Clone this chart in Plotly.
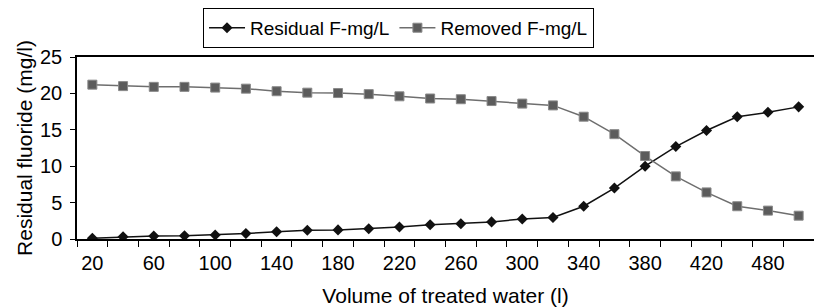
import plotly.graph_objects as go

categories = ["20", "40", "60", "80", "100", "120", "140", "160", "180", "200",
              "220", "240", "260", "280", "300", "320", "340", "360", "380", "400",
              "420", "440", "480", "500"]
tick_labels = ["20", "", "60", "", "100", "", "140", "", "180", "", "220", "",
               "260", "", "300", "", "340", "", "380", "", "420", "", "480", ""]
residual = [0.1, 0.3, 0.4, 0.45, 0.55, 0.75, 1.0, 1.2, 1.25, 1.4, 1.65, 1.95,
            2.1, 2.35, 2.75, 2.95, 4.5, 7.0, 10.0, 12.7, 14.9, 16.8, 17.4, 18.15]
removed = [21.2, 21.0, 20.9, 20.9, 20.8, 20.65, 20.3, 20.1, 20.05, 19.9, 19.6, 19.3,
           19.2, 18.95, 18.6, 18.35, 16.8, 14.4, 11.4, 8.6, 6.4, 4.5, 3.9, 3.2]

FONT = "Liberation Sans, Arial, sans-serif"

fig = go.Figure()
fig.add_trace(go.Scatter(
    x=categories, y=residual, name="Residual F-mg/L", mode="lines+markers",
    line=dict(color="#111111", width=1.5),
    marker=dict(symbol="diamond", size=8.5, color="#111111"),
))
fig.add_trace(go.Scatter(
    x=categories, y=removed, name="Removed F-mg/L", mode="lines+markers",
    line=dict(color="#6e6e6e", width=1.5),
    marker=dict(symbol="square", size=9, color="#5c5c5c",
                line=dict(color="#8a8a8a", width=1)),
))

fig.update_layout(
    width=814, height=307,
    margin=dict(l=77, r=0, t=57, b=68),
    paper_bgcolor="white", plot_bgcolor="white",
    font=dict(family=FONT, color="black"),
    showlegend=True,
    legend=dict(
        orientation="h", x=0.171, y=1.27, xanchor="left", yanchor="top",
        bordercolor="black", borderwidth=1, bgcolor="white",
        font=dict(size=19, family=FONT), itemwidth=36,
    ),
    xaxis=dict(
        type="category", categoryorder="array", categoryarray=categories,
        range=[-0.5, 23.5],
        tickmode="array", tickvals=categories, ticktext=tick_labels,
        tickson="boundaries", ticks="outside", ticklen=6, tickcolor="black",
        tickangle=0, ticklabelstandoff=5,
        showline=True, linecolor="black", linewidth=1.5, mirror=True,
        showgrid=False, zeroline=False,
        tickfont=dict(size=20, family=FONT),
        title=dict(text="Volume of treated water (l)", font=dict(size=21, family=FONT), standoff=18),
        automargin=False,
    ),
    yaxis=dict(
        range=[0, 25], tickmode="linear", tick0=0, dtick=5,
        ticks="outside", ticklen=5, tickcolor="black",
        showline=True, linecolor="black", linewidth=1.5,
        showgrid=False, zeroline=False,
        tickfont=dict(size=20, family=FONT), ticklabelstandoff=4,
        title=dict(text="Residual fluoride (mg/l)", font=dict(size=21, family=FONT), standoff=2),
        automargin=False,
    ),
)

fig.write_html("out.html", config={"displayModeBar": False},
               post_script="document.body.style.margin='0';document.body.style.overflow='hidden';")
